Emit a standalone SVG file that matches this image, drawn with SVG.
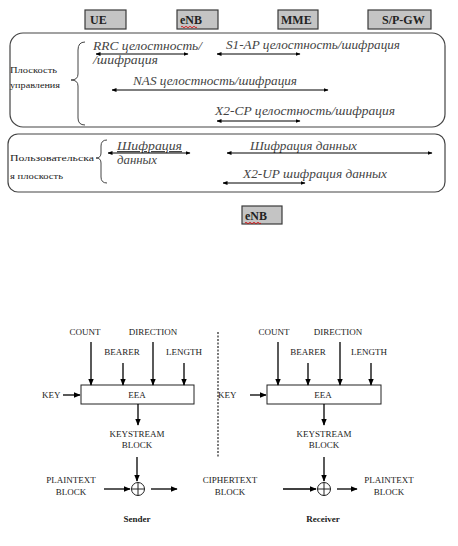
<svg xmlns="http://www.w3.org/2000/svg" width="458" height="546" viewBox="0 0 458 546">
<defs>
<marker id="ah" viewBox="0 0 10 10" refX="9" refY="5" markerWidth="5" markerHeight="5" orient="auto-start-reverse" markerUnits="userSpaceOnUse"><path d="M0,1 L10,5 L0,9 z" fill="#000"/></marker>
<marker id="ab" viewBox="0 0 10 10" refX="9" refY="5" markerWidth="7" markerHeight="7" orient="auto-start-reverse" markerUnits="userSpaceOnUse"><path d="M0,1 L10,5 L0,9 z" fill="#000"/></marker>
</defs>
<style>
.ent{fill:#c4c4c4;stroke:#3a3a3a;stroke-width:1.2}
.entt{font-family:"Liberation Serif",serif;font-weight:bold;font-size:12px;fill:#222}
.plane{fill:none;stroke:#444;stroke-width:1.2}
.pl{font-family:"Liberation Serif",serif;font-size:9px;fill:#222}
.it{font-family:"Liberation Serif",serif;font-style:italic;font-size:12.5px;fill:#444}
.dbl{stroke:#000;stroke-width:1;fill:none;marker-start:url(#ah);marker-end:url(#ah)}
.brace{fill:none;stroke:#444;stroke-width:1}
.lb{font-family:"Liberation Serif",serif;font-size:9px;fill:#222;text-anchor:middle}
.ar{stroke:#000;stroke-width:1.3;fill:none;marker-end:url(#ab)}
.box{fill:#fff;stroke:#222;stroke-width:1}
.bd{font-family:"Liberation Serif",serif;font-size:9px;font-weight:bold;fill:#222;text-anchor:middle}
</style>
<rect width="458" height="546" fill="#fff"/>

<g id="ue"><rect class="ent" x="85" y="10" width="41" height="19"/><text class="entt" x="90" y="24">UE</text></g>
<g id="enb"><rect class="ent" x="177" y="10" width="41" height="19"/><text class="entt" x="180" y="24">eNB</text><path d="M181,27 q1,-1.5 2,0 t2,0 t2,0 t2,0 t2,0 t2,0 t2,0 t2,0" fill="none" stroke="#d00" stroke-width="0.8"/></g>
<g id="mme"><rect class="ent" x="278" y="10" width="40" height="19"/><text class="entt" x="281" y="24">MME</text></g>
<g id="spgw"><rect class="ent" x="368" y="10" width="63" height="19"/><text class="entt" x="382" y="24">S/P-GW</text></g>

<g id="control-plane">
<rect class="plane" x="10" y="33" width="435" height="94" rx="13"/>
<text class="pl" x="10" y="73" textLength="47" lengthAdjust="spacingAndGlyphs">Плоскость</text>
<text class="pl" x="10" y="88" textLength="50" lengthAdjust="spacingAndGlyphs">управления</text>
<path class="brace" d="M85,42 Q78,42 78,50 L78,74 Q78,80 71,80 Q78,80 78,86 L78,118 Q78,125 85,125"/>
<text class="it" x="93" y="50" textLength="109" lengthAdjust="spacingAndGlyphs">RRC целостность/</text>
<text class="it" x="93" y="64" textLength="65" lengthAdjust="spacingAndGlyphs">/шифрация</text>
<text class="it" x="226" y="49" textLength="174" lengthAdjust="spacingAndGlyphs">S1-AP целостность/шифрация</text>
<text class="it" x="133" y="85" textLength="164" lengthAdjust="spacingAndGlyphs">NAS целостность/шифрация</text>
<text class="it" x="215" y="115" textLength="180" lengthAdjust="spacingAndGlyphs">X2-CP целостность/шифрация</text>
</g>

<g id="user-plane">
<rect class="plane" x="8" y="134" width="437" height="58" rx="10"/>
<text class="pl" x="10" y="161" textLength="84" lengthAdjust="spacingAndGlyphs">Пользовательска</text>
<text class="pl" x="10" y="179" textLength="53" lengthAdjust="spacingAndGlyphs">я плоскость</text>
<path class="brace" d="M107,140 Q101,140 101,146 L101,153 Q101,158 96,158 Q101,158 101,163 L101,177 Q101,183 107,183"/>
<text class="it" x="117" y="150" text-decoration="underline" textLength="65" lengthAdjust="spacingAndGlyphs">Шифрация</text>
<text class="it" x="117" y="164" textLength="40" lengthAdjust="spacingAndGlyphs">данных</text>
<text class="it" x="250" y="150" textLength="107" lengthAdjust="spacingAndGlyphs">Шифрация данных</text>
<text class="it" x="243" y="178" textLength="144" lengthAdjust="spacingAndGlyphs">X2-UP шифрация данных</text>
</g>

<g id="enb-bottom"><rect class="ent" x="242" y="206" width="40" height="18"/><text class="entt" x="245" y="220">eNB</text><path d="M245,223 q1,-1.5 2,0 t2,0 t2,0 t2,0 t2,0 t2,0 t2,0 t2,0" fill="none" stroke="#d00" stroke-width="0.8"/></g>

<g id="sender">
<text class="lb" x="85" y="335">COUNT</text>
<text class="lb" x="153" y="335">DIRECTION</text>
<text class="lb" x="122" y="355">BEARER</text>
<text class="lb" x="184" y="355">LENGTH</text>
<text class="pl" x="42" y="398">KEY</text>
<rect class="box" x="81" y="385" width="113" height="19"/>
<text class="lb" x="137" y="398">EEA</text>
<text class="lb" x="137" y="437">KEYSTREAM</text>
<text class="lb" x="137" y="448">BLOCK</text>
<text class="lb" x="71" y="483">PLAINTEXT</text>
<text class="lb" x="71" y="495">BLOCK</text>
<g><circle cx="138" cy="489" r="6.5" fill="#fff" stroke="#222" stroke-width="1"/><path d="M131.5,489 H144.5 M138,482.5 V495.5" stroke="#222" stroke-width="1"/></g>
<text class="bd" x="137" y="522">Sender</text>
</g>

<g id="receiver">
<text class="lb" x="274" y="335">COUNT</text>
<text class="lb" x="338" y="335">DIRECTION</text>
<text class="lb" x="308" y="355">BEARER</text>
<text class="lb" x="369" y="355">LENGTH</text>
<text class="pl" x="218" y="398">KEY</text>
<rect class="box" x="267" y="385" width="114" height="19"/>
<text class="lb" x="323" y="398">EEA</text>
<text class="lb" x="324" y="437">KEYSTREAM</text>
<text class="lb" x="324" y="448">BLOCK</text>
<text class="lb" x="230" y="483">CIPHERTEXT</text>
<text class="lb" x="230" y="495">BLOCK</text>
<g><circle cx="324" cy="489" r="6.5" fill="#fff" stroke="#222" stroke-width="1"/><path d="M317.5,489 H330.5 M324,482.5 V495.5" stroke="#222" stroke-width="1"/></g>
<text class="lb" x="389" y="483">PLAINTEXT</text>
<text class="lb" x="389" y="495">BLOCK</text>
<text class="bd" x="323" y="522">Receiver</text>
</g>

<g id="connectors">
<line class="dbl" x1="96" y1="54" x2="188" y2="54"/>
<line class="dbl" x1="217" y1="54" x2="300" y2="54"/>
<line class="dbl" x1="112" y1="90" x2="328" y2="90"/>
<line class="dbl" x1="217" y1="121" x2="300" y2="121"/>
<line class="dbl" x1="108" y1="153" x2="190" y2="153"/>
<line class="dbl" x1="227" y1="153" x2="432" y2="153"/>
<line class="dbl" x1="223" y1="183" x2="305" y2="183"/>

<line x1="218" y1="332" x2="218" y2="458" stroke="#222" stroke-width="1.2" stroke-dasharray="2,1.5"/>

<line class="ar" x1="91" y1="342" x2="91" y2="385"/>
<line class="ar" x1="123" y1="363" x2="123" y2="385"/>
<line class="ar" x1="153" y1="342" x2="153" y2="385"/>
<line class="ar" x1="184" y1="363" x2="184" y2="385" stroke-width="1.8"/>
<line class="ar" x1="63" y1="395" x2="80" y2="395"/>
<line class="ar" x1="138" y1="404" x2="138" y2="425"/>
<line class="ar" x1="137" y1="457" x2="137" y2="481"/>
<line class="ar" x1="104" y1="489" x2="130" y2="489"/>
<line class="ar" x1="151" y1="489" x2="177" y2="489"/>

<line class="ar" x1="278" y1="342" x2="278" y2="385"/>
<line class="ar" x1="308" y1="363" x2="308" y2="385"/>
<line class="ar" x1="340" y1="342" x2="340" y2="385"/>
<line class="ar" x1="371" y1="363" x2="371" y2="385" stroke-width="1.8"/>
<line class="ar" x1="250" y1="395" x2="266" y2="395"/>
<line class="ar" x1="324" y1="404" x2="324" y2="425"/>
<line class="ar" x1="324" y1="457" x2="324" y2="481"/>
<line class="ar" x1="283" y1="489" x2="316" y2="489"/>
<line class="ar" x1="337" y1="489" x2="357" y2="489"/>
</g>
</svg>
